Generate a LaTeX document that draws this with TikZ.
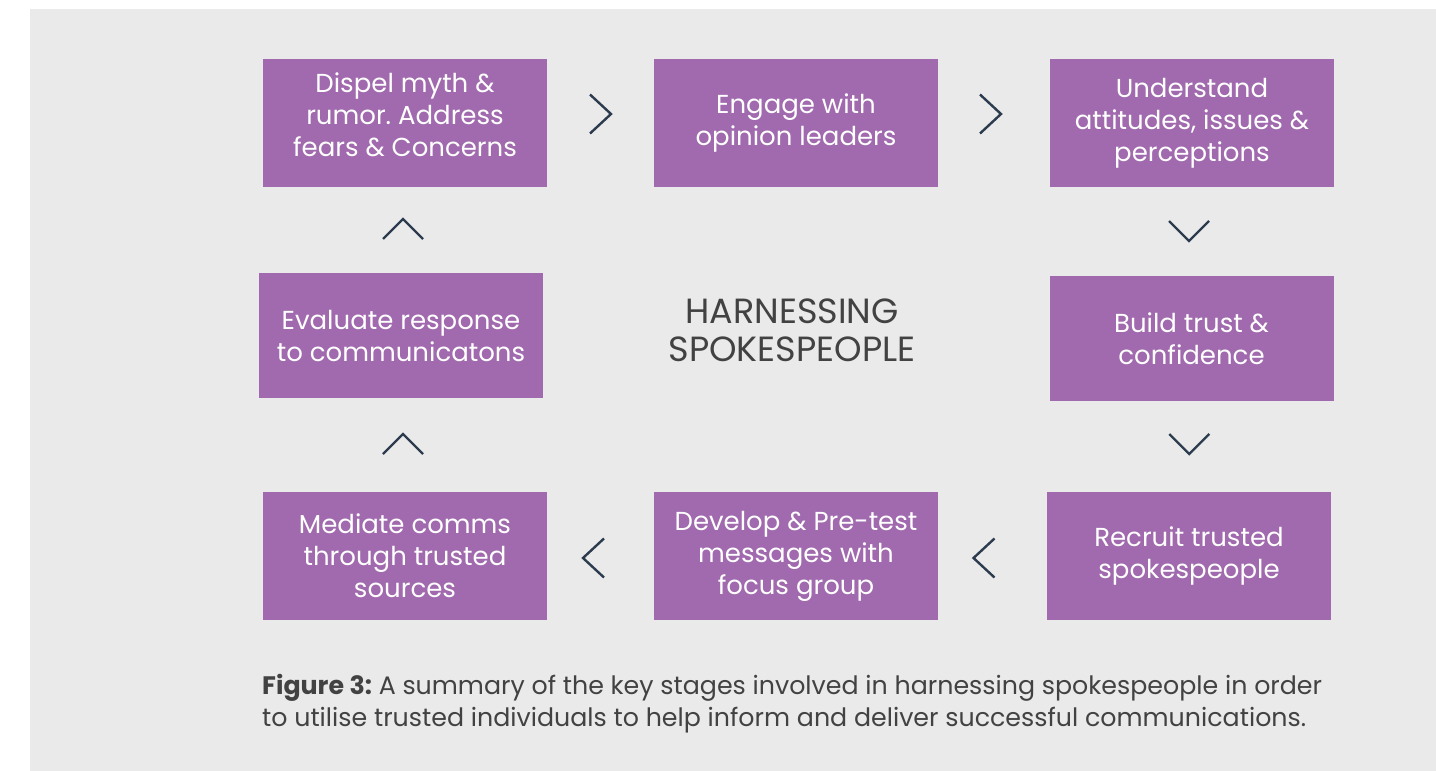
\documentclass[tikz,border=0pt]{standalone}
\usepackage{fontspec}
\setmainfont{Poppins}
\frenchspacing
\usetikzlibrary{calc}
\definecolor{panelgrey}{RGB}{234,234,234}
\definecolor{stagepurple}{RGB}{161,106,174}
\definecolor{chevronblue}{RGB}{44,60,78}
\definecolor{inkgrey}{RGB}{66,66,66}
\begin{document}
\begin{tikzpicture}[x=1pt,y=-1pt,
  stage/.style={fill=stagepurple, text=white, minimum width=284pt,
    minimum height=128pt, inner sep=0pt, align=center,
    font=\fontsize{26}{32}\selectfont},
  chevron/.style={draw=chevronblue, line width=2.4pt, line join=miter},
]
\useasboundingbox (0,0) rectangle (1436,771);
\fill[white] (0,0) rectangle (1436,771);
\fill[panelgrey] (29.5,9) rectangle (1436,771);

% stages of the cycle
\node[stage] (b1) at (405,123) {Dispel myth \&\\rumor. Address\\fears \& Concerns\\[-16pt]\mbox{}};
\node[stage] (b2) at (796,123) {Engage with\\opinion leaders};
\node[stage] (b3) at (1192,123) {Understand\\attitudes, issues \&\\perceptions};
\node[stage, minimum height=125pt] (b4) at (1191.5,338.5) {Build trust \&\\confidence};
\node[stage] (b5) at (1189,556) {Recruit trusted\\spokespeople};
\node[stage] (b6) at (796,556) {Develop \& Pre-test\\messages with\\focus group};
\node[stage] (b7) at (405,556) {Mediate comms\\through trusted\\sources};
\node[stage, minimum height=125pt] (b8) at (401,335.5) {Evaluate response\\to communicatons};

% centre title
\node[text=inkgrey, align=center, font=\fontsize{35}{38}\selectfont] (title) at (792,330)
  {HARNESSING\\SPOKESPEOPLE};

% chevrons between stages
\coordinate (c12) at ($(b1.east)!0.5!(b2.west)+(0,-9)$);
\coordinate (c23) at ($(b2.east)!0.5!(b3.west)+(-3.5,-9)$);
\coordinate (c34) at ($(b3.south)!0.5!(b4.north)+(-2.75,-0.5)$);
\coordinate (c45) at ($(b4.south)!0.5!(b5.north)+(-1,-2.5)$);
\coordinate (c56) at ($(b5.west)!0.5!(b6.east)+(-8.5,2)$);
\coordinate (c67) at ($(b6.west)!0.5!(b7.east)+(-7,2)$);
\coordinate (c78) at ($(b7.north)!0.5!(b8.south)+(0,-1)$);
\coordinate (c81) at ($(b8.north)!0.5!(b1.south)+(0,-1)$);

\foreach \c in {c12,c23}
  \draw[chevron, shift={(\c)}] (-10.5,-19.5) -- (10.5,0) -- (-10.5,19.5);
\foreach \c in {c56,c67}
  \draw[chevron, shift={(\c)}] (10.5,-19.5) -- (-10.5,0) -- (10.5,19.5);
\foreach \c in {c34,c45}
  \draw[chevron, shift={(\c)}] (-20,-10) -- (0,10) -- (20,-10);
\foreach \c in {c78,c81}
  \draw[chevron, shift={(\c)}] (-20,10) -- (0,-10) -- (20,10);

% caption
\node[anchor=base west, text=inkgrey, align=left, inner sep=0pt,
  font=\fontsize{25.3}{32}\selectfont] (caption) at (262,726)
  {\textbf{Figure 3:} A summary of the key stages involved in harnessing spokespeople in order\\
   to utilise trusted individuals to help inform and deliver successful communications.};
\end{tikzpicture}
\end{document}
